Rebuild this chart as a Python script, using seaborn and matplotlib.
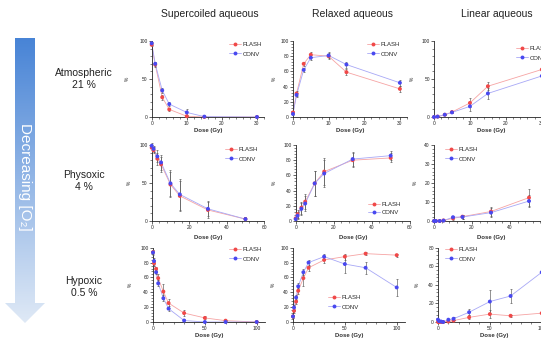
import matplotlib

matplotlib.use("Agg")

import matplotlib.pyplot as plt
import numpy as np
import pandas as pd
import seaborn as sns
from matplotlib.colors import LinearSegmentedColormap
from matplotlib.lines import Line2D
from matplotlib.patches import Polygon
from matplotlib.ticker import AutoMinorLocator

W, H = 541, 341

# doses (Gy) per oxygen condition
dose_atm = [0, 1, 3, 5, 10, 15, 30]
dose_phys = [0, 1, 3, 5, 10, 15, 30, 50]
dose_hyp = [0, 1, 3, 5, 10, 15, 30, 50, 70, 100]

# atmospheric 21 %
sc_atm_flash = [95, 69, 26, 10, 1, 0, 0]
sc_atm_flash_err = [2, 3, 3, 2, 1, 0.5, 0.5]
sc_atm_conv = [97, 70, 35, 17, 6, 0.5, 0]
sc_atm_conv_err = [2, 3, 3, 3, 5, 0.5, 0.5]

rx_atm_flash = [6, 31, 70, 82, 80, 59, 37]
rx_atm_flash_err = [2, 3, 3, 3, 4, 4, 4]
rx_atm_conv = [4, 29, 62, 78, 81, 69, 45]
rx_atm_conv_err = [2, 3, 3, 3, 4, 4, 4]

ln_atm_flash = [0, 0.5, 3, 6.5, 18.5, 40.5, 62.5]
ln_atm_flash_err = [0.3, 0.3, 1, 1, 6, 5, 5]
ln_atm_conv = [0, 0.5, 3, 6, 14, 31, 54]
ln_atm_conv_err = [0.3, 0.3, 1, 1, 6, 7, 5]

# physoxic 4 %
sc_phys_flash = [96.5, 93, 82, 74.5, 48, 33, 14.5, 2.5]
sc_phys_flash_err = [3, 4, 8, 10, 17, 20, 10, 3]
sc_phys_conv = [99, 95, 85, 77, 49.5, 35, 16, 2.5]
sc_phys_conv_err = [3, 4, 8, 10, 17, 20, 10, 3]

rx_phys_flash = [3.5, 9, 17.5, 25.5, 49.5, 65, 80, 83]
rx_phys_flash_err = [2, 5, 8, 10, 16, 18, 9, 6]
rx_phys_conv = [2.5, 7, 16, 23, 49.5, 62.5, 81.5, 86]
rx_phys_conv_err = [2, 5, 8, 10, 16, 18, 9, 6]

ln_phys_flash = [0, 0, 0, 0.3, 1.4, 2.3, 5, 12.3]
ln_phys_flash_err = [0.2, 0.2, 0.2, 0.3, 0.8, 1, 2.5, 4.5]
ln_phys_conv = [0, 0, 0, 0.2, 2, 2.1, 4.4, 10.5]
ln_phys_conv_err = [0.2, 0.2, 0.2, 0.3, 0.8, 1, 2.5, 3]

# hypoxic 0.5 %
sc_hyp_flash = [94, 79, 71.5, 59, 41, 25.5, 12, 5.5, 1.8, 0]
sc_hyp_flash_err = [3, 4, 3, 5, 10, 6, 4, 2, 1, 0.5]
sc_hyp_conv = [93.5, 82, 67, 52, 32, 18, 2, 0, 0, 0]
sc_hyp_conv_err = [3, 4, 3, 4, 4, 3, 2, 0.5, 0.5, 0.5]

rx_hyp_flash = [7.5, 15, 27.5, 42, 59, 73, 83.5, 88, 92, 90]
rx_hyp_flash_err = [2, 3, 3, 4, 10, 4, 4, 4, 2, 2]
rx_hyp_conv = [7.5, 19.5, 33, 48, 67, 80, 88, 78, 73, 46.5]
rx_hyp_conv_err = [2, 3, 3, 4, 4, 4, 3, 12, 8, 11]

ln_hyp_flash = [0, 0, 0, 0, 0.5, 1.5, 5, 8.5, 6.7, 9.5]
ln_hyp_flash_err = [0.5, 0.5, 0.5, 0.5, 0.5, 1, 2, 4, 1, 1]
ln_hyp_conv = [2.5, 1, 0.5, 0, 2.5, 3.5, 10.5, 22, 28, 53.5]
ln_hyp_conv_err = [1, 1, 1, 0.5, 1, 1.5, 3, 12, 8, 10]

column_titles = ["Supercoiled aqueous", "Relaxed aqueous", "Linear aqueous"]
row_labels = ["Atmospheric\n21 %", "Physoxic\n4 %", "Hypoxic\n0.5 %"]
arrow_label = "Decreasing [O₂]"

sns.set_theme(style="ticks")
plt.rcParams["font.family"] = ["Liberation Sans", "DejaVu Sans"]

FLASH_DOT = "#f04848"
FLASH_LINE = "#f6a4a4"
CONV_DOT = "#4848f0"
CONV_LINE = "#a8a8f6"

fig = plt.figure(figsize=(W / 100, H / 100), dpi=100)


def px_axes(x0, y_top, y_bot, width):
    return fig.add_axes([x0 / W, 1 - y_bot / H, width / W, (y_bot - y_top) / H])


def draw_panel(ax, dose, flash, flash_err, conv, conv_err, xmax, ymax, xticks, yticks,
               legend_px, ylab_px, xlab_dy, spacing=0.7):
    n = len(dose)
    df = pd.DataFrame({
        "dose": dose + dose,
        "value": flash + conv,
        "err": flash_err + conv_err,
        "group": ["FLASH"] * n + ["CONV"] * n,
    })
    sns.lineplot(data=df, x="dose", y="value", hue="group",
                 palette={"FLASH": FLASH_LINE, "CONV": CONV_LINE},
                 linewidth=0.6, legend=False, ax=ax, zorder=2)
    for _, sub in df.groupby("group"):
        ax.errorbar(sub["dose"], sub["value"], yerr=sub["err"], fmt="none",
                    ecolor="#555555", elinewidth=0.45, capsize=1.0, capthick=0.45,
                    zorder=3, clip_on=False)
    sns.scatterplot(data=df, x="dose", y="value", hue="group",
                    palette={"FLASH": FLASH_DOT, "CONV": CONV_DOT},
                    s=8, linewidth=0, legend=False, ax=ax, zorder=4, clip_on=False)

    ax.set_xlim(0, xmax)
    ax.set_ylim(0, ymax)
    ax.set_xticks(xticks)
    ax.set_yticks(yticks)
    ax.xaxis.set_minor_locator(AutoMinorLocator(5))
    ax.yaxis.set_minor_locator(AutoMinorLocator(5))
    ax.tick_params(which="major", length=2, width=0.5, labelsize=3.5, pad=1)
    ax.tick_params(which="minor", length=1.1, width=0.4)
    sns.despine(ax=ax)
    for side in ("left", "bottom"):
        ax.spines[side].set_linewidth(0.6)
        ax.spines[side].set_color("#222222")

    pos = ax.get_position()
    width_px = pos.width * W
    height_px = pos.height * H
    x0_px = pos.x0 * W
    ax.set_ylabel("%", fontsize=3.5, labelpad=0)
    ax.yaxis.set_label_coords((ylab_px - x0_px) / width_px, 0.5)
    ax.set_xlabel("Dose (Gy)", fontsize=4.3, fontweight="bold", color="#333333")
    ax.xaxis.set_label_coords(0.5, -xlab_dy / height_px)
    ax.xaxis.label.set_va("center")

    handles = [
        Line2D([], [], color=FLASH_LINE, lw=0.6, marker="o", markersize=2.8,
               markerfacecolor=FLASH_DOT, markeredgewidth=0),
        Line2D([], [], color=CONV_LINE, lw=0.6, marker="o", markersize=2.8,
               markerfacecolor=CONV_DOT, markeredgewidth=0),
    ]
    ax.legend(handles, ["FLASH", "CONV"], loc="upper left",
              bbox_to_anchor=(legend_px[0] / W, 1 - legend_px[1] / H),
              bbox_transform=fig.transFigure, frameon=False, fontsize=4.3,
              handlelength=2.0, handletextpad=0.3, borderpad=0, borderaxespad=0,
              labelspacing=spacing)


# row 1: atmospheric
ax = px_axes(151.7, 41, 117, 112.3)
draw_panel(ax, dose_atm, sc_atm_flash, sc_atm_flash_err, sc_atm_conv, sc_atm_conv_err,
           32, 100, [0, 10, 20, 30], [0, 50, 100], (229, 42), 130, 14)
ax = px_axes(293, 41, 117, 114)
draw_panel(ax, dose_atm, rx_atm_flash, rx_atm_flash_err, rx_atm_conv, rx_atm_conv_err,
           32, 100, [0, 10, 20, 30], [0, 20, 40, 60, 80, 100], (367, 42), 277, 14)
ax = px_axes(434, 41, 117, 115)
draw_panel(ax, dose_atm, ln_atm_flash, ln_atm_flash_err, ln_atm_conv, ln_atm_conv_err,
           32, 100, [0, 10, 20, 30], [0, 50, 100], (516, 46), 415, 14)

# row 2: physoxic
ax = px_axes(151.7, 145, 221, 112.5)
draw_panel(ax, dose_phys, sc_phys_flash, sc_phys_flash_err, sc_phys_conv, sc_phys_conv_err,
           60, 100, [0, 20, 40, 60], [0, 50, 100], (225, 147), 132, 16)
ax = px_axes(295.7, 145, 221, 114)
draw_panel(ax, dose_phys, rx_phys_flash, rx_phys_flash_err, rx_phys_conv, rx_phys_conv_err,
           60, 100, [0, 20, 40, 60], [0, 20, 40, 60, 80, 100], (368, 202), 277, 16, 0.45)
ax = px_axes(434, 145, 221, 114)
draw_panel(ax, dose_phys, ln_phys_flash, ln_phys_flash_err, ln_phys_conv, ln_phys_conv_err,
           60, 40, [0, 20, 40, 60], [0, 10, 20, 30, 40], (445, 147), 418, 16)

# row 3: hypoxic
ax = px_axes(153, 247.7, 322, 112)
draw_panel(ax, dose_hyp, sc_hyp_flash, sc_hyp_flash_err, sc_hyp_conv, sc_hyp_conv_err,
           108, 100, [0, 50, 100], [0, 20, 40, 60, 80, 100], (229, 247), 133, 13)
ax = px_axes(293, 247.7, 322, 112)
draw_panel(ax, dose_hyp, rx_hyp_flash, rx_hyp_flash_err, rx_hyp_conv, rx_hyp_conv_err,
           108, 100, [0, 50, 100], [0, 20, 40, 60, 80, 100], (328, 295), 276, 13)
ax = px_axes(438, 247.7, 322, 112)
draw_panel(ax, dose_hyp, ln_hyp_flash, ln_hyp_flash_err, ln_hyp_conv, ln_hyp_conv_err,
           108, 80, [0, 50, 100], [0, 20, 40, 60, 80], (445, 247), 420, 13)

# gradient arrow on the left
bg = fig.add_axes([0, 0, 1, 1], zorder=-1)
bg.set_xlim(0, W)
bg.set_ylim(H, 0)
bg.axis("off")
arrow_cmap = LinearSegmentedColormap.from_list("arrow", ["#4884d6", "#dfe9f6"])
grad = np.linspace(0, 1, 256).reshape(-1, 1)
im = bg.imshow(grad, cmap=arrow_cmap, extent=(5, 45, 323, 38), aspect="auto")
arrow = Polygon([(15, 38), (35, 38), (35, 303), (45, 303), (25, 323), (5, 303), (15, 303)],
                closed=True, facecolor="none", edgecolor="none")
bg.add_patch(arrow)
im.set_clip_path(arrow)
bg.text(25, 177, arrow_label, rotation=-90, ha="center", va="center",
        color="white", fontsize=11)

for label, y in zip(row_labels, [79, 181.5, 286.5]):
    bg.text(84, y, label, ha="center", va="center", fontsize=7.5,
            color="#222222", linespacing=1.25)

for title, x in zip(column_titles, [210, 353, 497]):
    bg.text(x, 14, title, ha="center", va="center", fontsize=7.5, color="#222222")

fig.savefig("out.png", dpi=100)
